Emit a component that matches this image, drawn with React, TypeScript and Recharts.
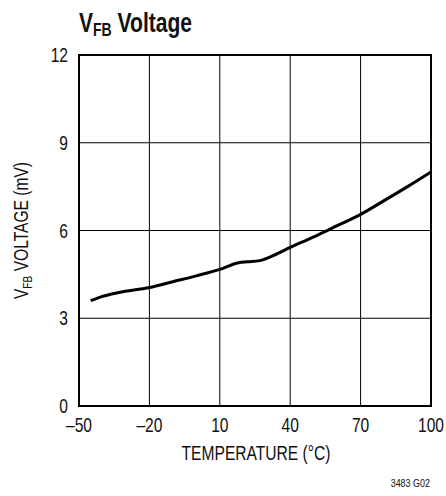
import { LineChart, Line, XAxis, YAxis, CartesianGrid, ReferenceArea } from "recharts";

// degC -> mV
const temps = [-45, -40, -33, -20, -10, 0, 10, 18, 22, 27, 33, 40, 50, 57, 70, 80, 90, 100];
const vfb = [3.6, 3.75, 3.88, 4.05, 4.25, 4.45, 4.67, 4.9, 4.93, 4.97, 5.15, 5.42, 5.78, 6.05, 6.55, 7.02, 7.5, 8.0];
const xTicks = [-50, -20, 10, 40, 70, 100];
const yTicks = [0, 3, 6, 9, 12];

const data = temps.map((t, i) => ({ t, v: vfb[i] }));

// no narrow font installed, so squeeze Liberation Sans sideways
const FONT = '"Liberation Sans", Arial, sans-serif';
const NARROW = 0.78;
const dash = (v: number) => String(v).replace("-", "\u2013");

const XTick = ({ x, y, payload }: any) => (
  <text
    transform={`translate(${x}, ${y + 11}) scale(${NARROW}, 1)`}
    textAnchor="middle" fontFamily={FONT} fontSize={20} fill="#111"
  >
    {dash(payload.value)}
  </text>
);

const YTick = ({ x, y, payload }: any) => (
  <text
    transform={`translate(${x}, ${y + 7}) scale(${NARROW}, 1)`}
    textAnchor="end" fontFamily={FONT} fontSize={20} fill="#111"
  >
    {payload.value}
  </text>
);

const XLabel = ({ viewBox }: any) => {
  const { x, y, width } = viewBox;
  return (
    <g fontFamily={FONT} fill="#111">
      <text
        transform={`translate(${x + width / 2 + 1}, ${y + 54}) scale(${NARROW}, 1)`}
        textAnchor="middle" fontSize={20}
      >
        TEMPERATURE (°C)
      </text>
      <text
        transform={`translate(${x + width - 1}, ${y + 81}) scale(${NARROW}, 1)`}
        textAnchor="end" fontSize={11.5}
      >
        3483 G02
      </text>
    </g>
  );
};

const YLabel = ({ viewBox }: any) => {
  const cy = viewBox.y + viewBox.height / 2;
  return (
    <text
      transform={`translate(28, ${cy}) rotate(-90) scale(${NARROW}, 1)`}
      textAnchor="middle" fontFamily={FONT} fontSize={20} fill="#111"
    >
      V<tspan fontSize={13} dy={4}>FB</tspan>
      <tspan dy={-4}> VOLTAGE (mV)</tspan>
    </text>
  );
};

export default function App() {
  return (
    <div style={{ position: "absolute", left: 0, top: 0, width: 446, height: 496, background: "#fff" }}>
      <svg width={446} height={50} style={{ position: "absolute", left: 0, top: 0 }}>
        <text
          transform={`translate(79, 32) scale(${NARROW}, 1)`}
          fontFamily={FONT} fontWeight="bold" fontSize={27} fill="#111"
        >
          V<tspan fontSize={18} dy={4}>FB</tspan>
          <tspan dy={-4}> Voltage</tspan>
        </text>
      </svg>
      <LineChart
        width={446} height={496} data={data}
        margin={{ top: 55, right: 15, bottom: 0, left: 0 }}
      >
        <CartesianGrid stroke="#000" strokeWidth={1} />
        <XAxis
          type="number" dataKey="t" domain={[-50, 100]} ticks={xTicks}
          tickLine={false} tickMargin={9}
          axisLine={{ stroke: "#000", strokeWidth: 2 }}
          tick={<XTick />} height={90} label={<XLabel />}
        />
        <YAxis
          type="number" domain={[0, 12]} ticks={yTicks}
          tickLine={false} tickMargin={5} width={79}
          axisLine={{ stroke: "#000", strokeWidth: 2 }}
          tick={<YTick />} label={<YLabel />}
        />
        <ReferenceArea
          x1={-50} x2={100} y1={0} y2={12}
          fill="none" stroke="#000" strokeWidth={2} ifOverflow="visible"
        />
        <Line
          type="monotone" dataKey="v" stroke="#000" strokeWidth={3}
          dot={false} isAnimationActive={false}
        />
      </LineChart>
    </div>
  );
}
